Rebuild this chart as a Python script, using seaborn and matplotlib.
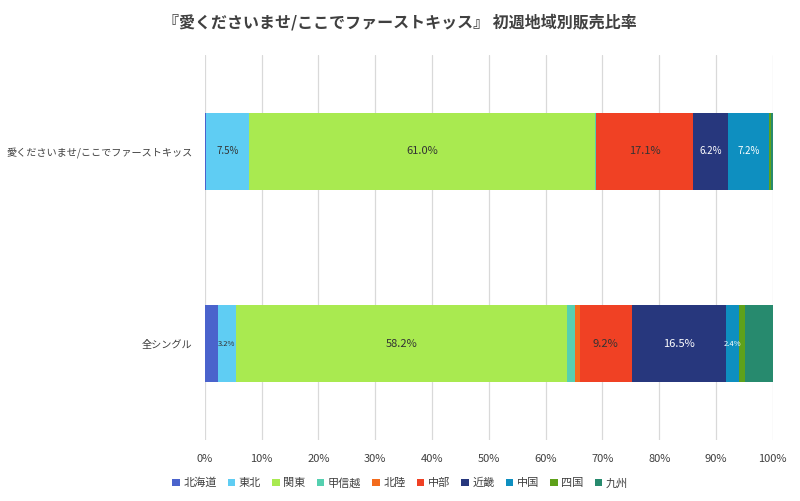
import matplotlib
matplotlib.use('Agg')
import matplotlib.pyplot as plt
from matplotlib.patches import Patch
import seaborn as sns
import numpy as np
import pandas as pd

# data (percent of first-week sales)
CATEGORIES = ['愛くださいませ/ここでファーストキッス', '全シングル']
REGIONS = ['北海道', '東北', '関東', '甲信越', '北陸', '中部', '近畿', '中国', '四国', '九州']
SONG_SHARE = [0.2, 7.5, 61.0, 0.1, 0.1, 17.1, 6.2, 7.2, 0.3, 0.3]
ALL_SHARE = [2.3, 3.2, 58.2, 1.5, 0.8, 9.2, 16.5, 2.4, 1.0, 4.9]
LABELED = ['東北', '関東', '中部', '近畿', '中国']
X_TICKS = [0, 10, 20, 30, 40, 50, 60, 70, 80, 90, 100]

COLORS = ['#4A63CC', '#5FCDF3', '#A9EA50', '#55D0B0', '#F36B1C',
          '#F04124', '#27377D', '#0E8FC0', '#5EA11A', '#278A6E']
WHITE_TEXT = ['近畿', '中国']

sns.set_theme(style='white')
plt.rcParams['font.family'] = ['Noto Sans CJK JP', 'DejaVu Sans']

shares = np.array([SONG_SHARE, ALL_SHARE])
cum = np.cumsum(shares, axis=1)

fig = plt.figure(figsize=(8.0, 5.01), dpi=100)
ax = fig.add_axes([0.256, 0.122, 0.710, 0.768])

# stacked bars: draw cumulative totals from the outermost inward
for k in range(len(REGIONS) - 1, -1, -1):
    df = pd.DataFrame({'cat': CATEGORIES, 'val': cum[:, k]})
    sns.barplot(data=df, x='val', y='cat', color=COLORS[k], width=0.4,
                saturation=1, linewidth=0, ax=ax, zorder=2)

# segment labels
for i in range(len(CATEGORIES)):
    for k, reg in enumerate(REGIONS):
        if reg not in LABELED:
            continue
        v = shares[i, k]
        mid = cum[i, k] - v / 2
        size = 8 if v >= 9 else (7 if v >= 6 else 5.5)
        col = 'white' if reg in WHITE_TEXT else '#333333'
        ax.text(mid, i, f'{v:.1f}%', ha='center', va='center',
                fontsize=size, color=col, zorder=3)

ax.set_xlim(0, 100)
ax.set_ylim(1.5, -0.5)
ax.set_xticks(X_TICKS)
ax.set_xticklabels([f'{t}%' for t in X_TICKS])
ax.xaxis.grid(True, color='#D9D9D9', linewidth=0.9, zorder=0)
ax.set_axisbelow(True)
for s in ax.spines.values():
    s.set_visible(False)
ax.tick_params(axis='x', length=0, labelsize=8, colors='#404040', pad=10)
ax.tick_params(axis='y', length=0, labelsize=7.3, colors='#404040', pad=9)
ax.set_xlabel('')
ax.set_ylabel('')

fig.text(0.5, 0.956, '『愛くださいませ/ここでファーストキッス』 初週地域別販売比率',
         ha='center', va='center', fontsize=11.5, fontweight='bold', color='#404040')

handles = [Patch(facecolor=c, edgecolor='none', label=r) for c, r in zip(COLORS, REGIONS)]
fig.legend(handles=handles, loc='center', bbox_to_anchor=(0.5, 0.036), ncol=10,
           frameon=False, fontsize=8, handlelength=0.7, handleheight=0.7,
           handletextpad=0.3, columnspacing=1.0, labelcolor='#404040')

plt.savefig('out.png', dpi=100)
